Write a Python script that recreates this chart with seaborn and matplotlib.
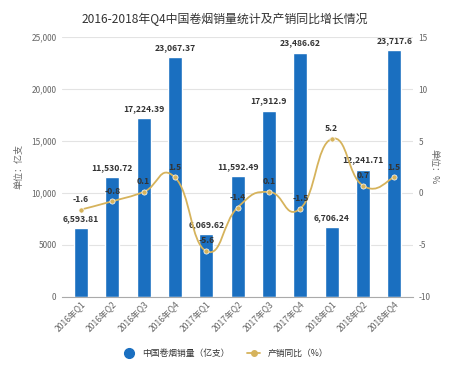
import numpy as np
import pandas as pd
import matplotlib
matplotlib.use("Agg")
import matplotlib.pyplot as plt
from matplotlib.path import Path
from matplotlib.patches import PathPatch
from matplotlib.lines import Line2D
import seaborn as sns

quarters = ["2016年Q1", "2016年Q2", "2016年Q3", "2016年Q4",
            "2017年Q1", "2017年Q2", "2017年Q3", "2017年Q4",
            "2018年Q1", "2018年Q2", "2018年Q4"]
sales = [6593.81, 11530.72, 17224.39, 23067.37,
         6069.62, 11592.49, 17912.9, 23486.62,
         6706.24, 12241.71, 23717.6]
growth = [-1.6, -0.8, 0.1, 1.5, -5.6, -1.4, 0.1, -1.5, 5.2, 0.7, 1.5]
sales_labels = ["6,593.81", "11,530.72", "17,224.39", "23,067.37",
                "6,069.62", "11,592.49", "17,912.9", "23,486.62",
                "6,706.24", "12,241.71", "23,717.6"]

sns.set_style("white")
plt.rcParams['font.family'] = ['Noto Sans CJK SC', 'DejaVu Sans']

bar_color = "#1a6fc0"
line_color = "#d6b35c"
grey = "#666666"

df = pd.DataFrame({"quarter": quarters, "sales": sales, "growth": growth})

fig = plt.figure(figsize=(4.5, 3.67), dpi=100)
ax = fig.add_axes([0.138, 0.191, 0.780, 0.708])
sns.barplot(data=df, x="quarter", y="sales", color=bar_color, width=0.45,
            saturation=1, ax=ax)
ax.set_ylim(0, 25000)
ax.set_yticks([0, 5000, 10000, 15000, 20000, 25000])
ax.set_yticklabels(["0", "5000", "10,000", "15,000", "20,000", "25,000"])
ax.yaxis.grid(True, color="#e3e3e3", linewidth=0.8)
ax.set_axisbelow(True)
for s in ["top", "right", "left"]:
    ax.spines[s].set_visible(False)
ax.spines["bottom"].set_color("#aaaaaa")
ax.tick_params(axis="y", labelsize=6, colors=grey, length=0, pad=4)
ax.tick_params(axis="x", labelsize=6.2, colors=grey, length=0, pad=2)
plt.setp(ax.get_xticklabels(), rotation=45, ha="right", rotation_mode="anchor")
ax.set_xlabel("")
ax.set_ylabel("单位：亿支", fontsize=6.5, color=grey, labelpad=6)
ax.set_xlim(-0.6, len(quarters) - 0.4)

for i, (v, lab) in enumerate(zip(sales, sales_labels)):
    ax.text(i, v + 500, lab, ha="center", va="bottom", fontsize=6.2,
            fontweight="bold", color="#333333")

ax2 = ax.twinx()
ax2.set_ylim(-10, 15)
ax2.set_yticks([-10, -5, 0, 5, 10, 15])
ax2.set_yticklabels(["-10", "-5", "0", "5", "10", "15"])
for s in ["top", "right", "left", "bottom"]:
    ax2.spines[s].set_visible(False)
ax2.tick_params(axis="y", labelsize=6, colors=grey, length=0, pad=4)
ax2.set_ylabel("单位：%", fontsize=6.5, color=grey, rotation=-90, labelpad=6)

# smooth curve through the points (Catmull-Rom as cubic Bezier)
xs = np.arange(len(growth), dtype=float)
ys = np.array(growth, dtype=float)
verts = [(xs[0], ys[0])]
codes = [Path.MOVETO]
t = 0.25
for i in range(len(xs) - 1):
    p0 = np.array([xs[max(i - 1, 0)], ys[max(i - 1, 0)]])
    p1 = np.array([xs[i], ys[i]])
    p2 = np.array([xs[i + 1], ys[i + 1]])
    p3 = np.array([xs[min(i + 2, len(xs) - 1)], ys[min(i + 2, len(xs) - 1)]])
    c1 = p1 + (p2 - p0) * t
    c2 = p2 - (p3 - p1) * t
    verts += [tuple(c1), tuple(c2), tuple(p2)]
    codes += [Path.CURVE4] * 3
ax2.add_patch(PathPatch(Path(verts, codes), facecolor="none",
                        edgecolor=line_color, linewidth=1.3, zorder=3))
sns.scatterplot(x=xs, y=ys, color=line_color, s=14, edgecolor="white",
                linewidth=0.5, zorder=4, ax=ax2)
for x, y in zip(xs, ys):
    ax2.text(x, y + 0.55, f"{y:g}", ha="center", va="bottom", fontsize=6.2,
             fontweight="bold", color="#333333", zorder=5)

fig.suptitle("2016-2018年Q4中国卷烟销量统计及产销同比增长情况", fontsize=8.6,
             color="#333333", y=0.965)

handles = [Line2D([], [], marker="o", color=bar_color, linestyle="none",
                  markersize=7),
           Line2D([], [], marker="o", color=line_color, linewidth=1.3,
                  markersize=4)]
fig.legend(handles, ["中国卷烟销量（亿支）", "产销同比（%）"], loc="center",
           bbox_to_anchor=(0.5, 0.037), ncol=2, frameon=False, fontsize=6.3,
           handlelength=1.5, columnspacing=2, labelcolor="#333333")

fig.savefig("out.png", dpi=100)
